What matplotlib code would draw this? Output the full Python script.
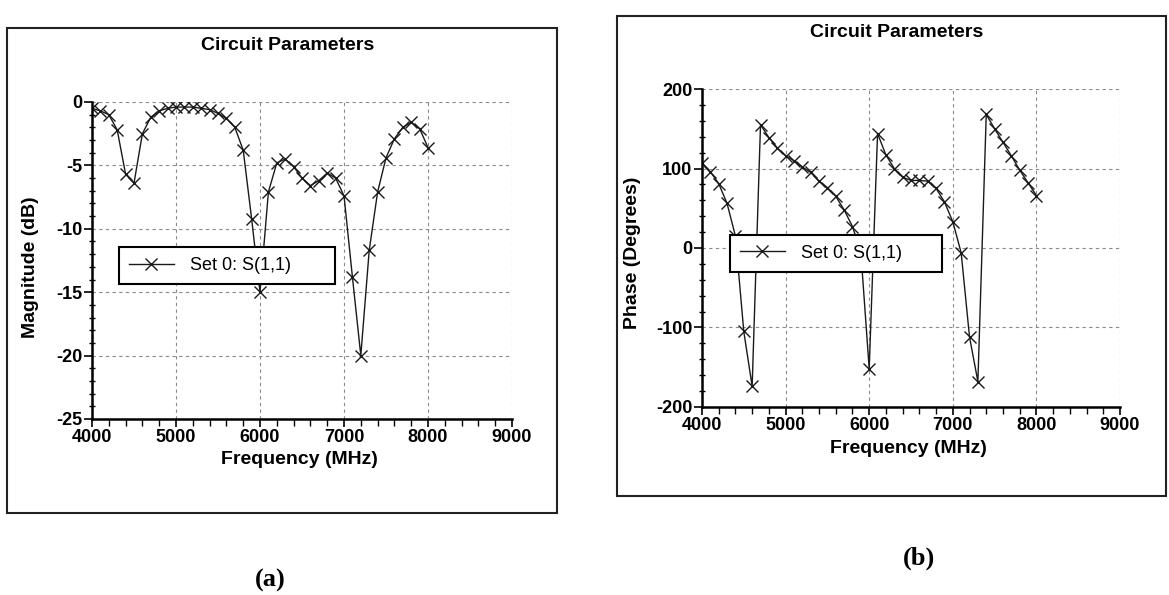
import numpy as np
import matplotlib.pyplot as plt
from matplotlib.patches import Rectangle
from matplotlib.ticker import MultipleLocator

plt.rcParams["font.family"] = ["Liberation Sans", "DejaVu Sans"]
plt.rcParams["axes.unicode_minus"] = False

# frequency sweep, one marker every 100 MHz
freq_mhz = list(range(4000, 8001, 100))

mag_db = [
    -0.5, -0.7, -1.0, -2.2, -5.7, -6.4, -2.5, -1.2, -0.7, -0.5,
    -0.4, -0.4, -0.4, -0.5, -0.6, -0.9, -1.3, -2.0, -3.8, -9.2,
    -15.0, -7.1, -4.8, -4.5, -5.1, -6.0, -6.6, -6.2, -5.6, -6.0,
    -7.4, -13.8, -20.0, -11.7, -7.1, -4.4, -2.9, -2.0, -1.6, -2.1,
    -3.6,
]

phase_deg = [
    107, 96, 81, 56, 15, -105, -174, 155, 139, 126,
    116, 110, 102, 95, 84, 76, 65, 48, 27, -5,
    -152, 144, 117, 100, 89, 85, 85, 84, 75, 58,
    33, -6, -112, -168, 168, 150, 133, 116, 98, 82,
    66,
]

series_label = "Set 0: S(1,1)"
panel_title = "Circuit Parameters"
x_label = "Frequency (MHz)"
x_ticks = [4000, 5000, 6000, 7000, 8000, 9000]


def style_axes(ax, ylim, ymajor, yminor):
    ax.set_xlim(4000, 9000)
    ax.set_ylim(*ylim)
    ax.set_xticks(x_ticks)
    ax.xaxis.set_minor_locator(MultipleLocator(200))
    ax.yaxis.set_major_locator(MultipleLocator(ymajor))
    ax.yaxis.set_minor_locator(MultipleLocator(yminor))
    ax.grid(True, which="major", linestyle=(0, (3, 3)), color="#8a8a8a", linewidth=0.8)
    for side in ("top", "right"):
        ax.spines[side].set_visible(False)
    for side in ("left", "bottom"):
        ax.spines[side].set_linewidth(1.8)
    ax.tick_params(which="major", direction="out", length=6, width=1.2, labelsize=13, pad=1)
    ax.tick_params(axis="y", which="minor", direction="inout", length=5, width=1.0)
    ax.tick_params(axis="x", which="minor", direction="out", length=5, width=1.0)
    for lab in ax.get_xticklabels() + ax.get_yticklabels():
        lab.set_fontweight("bold")


def draw_panel(ax, values, ylabel, ylim, ymajor, yminor, leg_box):
    ax.plot(freq_mhz, values, color="#1a1a1a", linewidth=1.0, marker="x",
            markersize=9, markeredgewidth=1.0, label=series_label)
    style_axes(ax, ylim, ymajor, yminor)
    ax.set_xlabel(x_label, fontsize=14, fontweight="bold")
    ax.set_ylabel(ylabel, fontsize=14, fontweight="bold")
    leg = ax.legend(loc="center left", bbox_to_anchor=leg_box, mode="expand",
                    fontsize=13, fancybox=False, framealpha=1, edgecolor="black",
                    handlelength=2.5, handletextpad=0.9, borderpad=0.55,
                    borderaxespad=0)
    leg.get_frame().set_linewidth(1.5)
    leg.set_zorder(5)


fig = plt.figure(figsize=(11.69, 5.95), dpi=100)

ax_a = fig.add_axes([0.0787, 0.2958, 0.3593, 0.5328])
ax_b = fig.add_axes([0.6005, 0.3160, 0.3576, 0.5344])

draw_panel(ax_a, mag_db, "Magnitude (dB)", (-25, 0), 5, 1, (0.064, 0.416, 0.515, 0.136))
draw_panel(ax_b, phase_deg, "Phase (Degrees)", (-200, 200), 100, 20, (0.067, 0.42, 0.507, 0.128))

ax_a.xaxis.set_label_coords(0.495, -0.10)
ax_a.yaxis.set_label_coords(-0.125, 0.48)
ax_b.xaxis.set_label_coords(0.493, -0.104)
ax_b.yaxis.set_label_coords(-0.145, 0.484)

# outer frames around each panel
fig.patches.append(Rectangle((0.006, 0.138), 0.4705, 0.815, transform=fig.transFigure,
                             fill=False, edgecolor="#222222", linewidth=1.5))
fig.patches.append(Rectangle((0.528, 0.166), 0.4696, 0.807, transform=fig.transFigure,
                             fill=False, edgecolor="#222222", linewidth=1.5))

fig.text(0.2464, 0.924, panel_title, ha="center", va="center", fontsize=14, fontweight="bold")
fig.text(0.767, 0.946, panel_title, ha="center", va="center", fontsize=14, fontweight="bold")

fig.text(0.231, 0.025, "(a)", ha="center", va="center", fontsize=19, fontweight="bold",
         family=["Liberation Serif", "DejaVu Serif"])
fig.text(0.786, 0.062, "(b)", ha="center", va="center", fontsize=19, fontweight="bold",
         family=["Liberation Serif", "DejaVu Serif"])

fig.savefig("out.png", dpi=100)
